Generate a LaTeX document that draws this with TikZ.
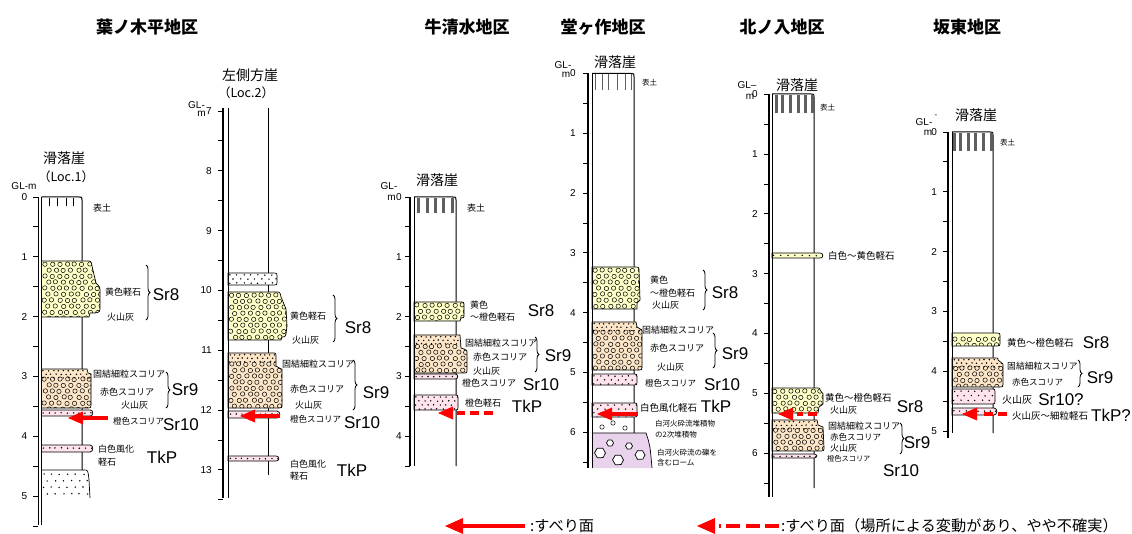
\documentclass[tikz,border=0pt]{standalone}
\usepackage{fontspec}
\setmainfont{Liberation Sans}
\newfontfamily\jp{Noto Sans CJK JP}
\usetikzlibrary{decorations.pathreplacing}
\definecolor{yel}{RGB}{255,255,200}
\definecolor{pch}{RGB}{253,230,200}
\definecolor{pnk}{RGB}{255,228,238}
\definecolor{pur}{RGB}{232,210,236}
\definecolor{htc}{RGB}{95,95,95}
\newcounter{nn}
\newcommand\circs[4]{%
  \pgfmathtruncatemacro\nr{(#4-#2)/6}%
  \pgfmathtruncatemacro\nc{(#3-#1)/7.5}%
  \foreach \r in {0,...,\nr}{\foreach \c in {0,...,\nc}{%
    \draw[circ] ({#1+3.2+\c*7.5+mod(\r,2)*3.75+0.8*rand},{#2+3.2+\r*6+0.4*rand}) circle[radius=2.2];}}}
\newcommand\dotsin[6]{%
  \pgfmathtruncatemacro\nr{(#4-#2)/#6}%
  \pgfmathtruncatemacro\nc{(#3-#1)/#5}%
  \foreach \r in {0,...,\nr}{\foreach \c in {0,...,\nc}{%
    \fill ({#1+2+\c*#5+mod(\r,2)*#5/2+0.6*rand},{#2+#6/2+\r*#6+0.3*rand}) circle[radius=0.8];}}}
\newcommand\layer[3]{\fill[#1] #2; \begin{scope}\clip #2; #3\end{scope} \draw[lay] #2;}
\newcommand\bandp[4]{(#1,#2) -- ({#3-3},#2) .. controls ({#3+0.8},#2) and ({#3+0.8},#4) .. ({#3-3},#4) -- (#1,#4) -- cycle}
\newcommand\boxp[4]{(#1,#2) -- ({#3-3},#2) .. controls (#3,#2) .. (#3,{#2+3}) -- (#3,{#4-3}) .. controls (#3,#4) .. ({#3-3},#4) -- (#1,#4) -- cycle}
\newcommand\ticks[5]{%
  \foreach \k in {0,...,#4}{%
    \pgfmathsetmacro\yy{#2+29.9*\k}%
    \draw[line width=0.8pt] ({#1-5},\yy) -- (#1,\yy);
    \ifodd\k\else\pgfmathtruncatemacro\dd{#3+\k/2}\node[ticklbl] at ({#1-#5},\yy) {\dd};\fi}}
\newcommand\hatch[4]{\foreach \x in {#1}{\draw[#4] (\x,#2) -- (\x,#3);}}
\newcommand\slip[5]{%
  \fill[red] (#1,#3) -- ({#1+#4},{#3-#5}) -- ({#1+#4},{#3+#5}) -- cycle;
  \draw[red,line width=4.5pt] ({#1+#4-1},#3) -- (#2,#3);}
\newcommand\slipd[6]{%
  \fill[red] (#1,#3) -- ({#1+#4},{#3-#5}) -- ({#1+#4},{#3+#5}) -- cycle;
  \draw[red,line width=4.5pt,dash pattern=#6] (#2,#3) -- ({#1+#4+4},#3);}
\newcommand\lb[4][9]{\stepcounter{nn}\node[lbl,font={\jp\fontsize{#1}{#1}\selectfont}] (n\arabic{nn}) at (#2,#3) {#4};}
\newcommand\sr[3]{\stepcounter{nn}\node[srl] (n\arabic{nn}) at (#1,#2) {#3};}
\newcommand\gl[4][10]{\stepcounter{nn}\node[inner sep=0pt,font=\fontsize{#1}{#1}\selectfont] (n\arabic{nn}) at (#2,#3) {#4};}
\newcommand\clast[3]{\draw[fill=white,line width=0.7pt] ({#1+#3},#2) \foreach \a in {55,118,182,240,300} { -- ({#1+#3*cos(\a)},{#2+#3*sin(\a)}) } -- cycle;}
\begin{document}
\begin{tikzpicture}[x=1pt,y=-1pt,
 colline/.style={line width=1pt},
 axisline/.style={line width=1.4pt},
 lay/.style={line width=0.7pt},
 circ/.style={line width=0.5pt},
 lbl/.style={inner sep=0pt,anchor=west},
 srl/.style={inner sep=0pt,font=\fontsize{17}{17}\selectfont},
 ticklbl/.style={inner sep=0pt,anchor=east,font=\fontsize{10}{10}\selectfont},
 ttl/.style={inner sep=0pt,font=\jp\bfseries\fontsize{17}{17}\selectfont},
 hd/.style={inner sep=0pt,font=\jp\fontsize{14}{14}\selectfont},
 hds/.style={inner sep=0pt,font=\jp\fontsize{12.5}{12.5}\selectfont},
 brc/.style={decorate,decoration={brace,amplitude=4pt},line width=0.8pt},
 thinhatch/.style={line width=0.7pt,black},
 thickhatch/.style={line width=3pt,color=htc},
]
\pgfmathsetseed{4242}
\useasboundingbox (0,0) rectangle (1132,534);
\fill[white] (0,0) rectangle (1132,534);

% ---------------- titles
\node[ttl] (T1) at (147,27) {葉ノ木平地区};
\node[ttl] (T2) at (467,27) {牛清水地区};
\node[ttl] (T3) at (603,27) {堂ヶ作地区};
\node[ttl] (T4) at (782,27) {北ノ入地区};
\node[ttl] (T5) at (967,27) {坂東地区};

% ================= Column 1 =================
\node[hd] (H1) at (64,158) {滑落崖};
\node[hds] (H1b) at (66,177) {（Loc.1）};
\gl{24}{186}{GL-m}
\draw[colline] (41.5,197) -- (79,197) .. controls (82,197) .. (82,200) -- (82,470);
\hatch{49,57,66,73}{198}{206}{thinhatch}
\layer{yel}{(41.5,261) -- (87,261) .. controls (91,261) .. (92,266) -- (96,283) .. controls (100,287) .. (100,292) -- (100,306) .. controls (100,312) .. (95,313) -- (90,313) -- (89,317) -- (41.5,317) -- cycle}{\circs{41.5}{261}{100}{317}}
\layer{pch}{(41.5,369) -- (87,369) -- (88,373) -- (91,374) -- (91,405) .. controls (91,408) .. (88,408) -- (41.5,408) -- cycle}{\dotsin{41.5}{369}{91}{377}{5}{3.5}\circs{41.5}{376}{91}{408}}
\layer{pnk}{\bandp{41.5}{410}{93}{416}}{\dotsin{41.5}{410.5}{93}{416}{6}{5}}
\layer{pnk}{\bandp{41.5}{445}{93}{452}}{\dotsin{41.5}{445.5}{93}{452}{6}{5}}
\begin{scope}
\clip (41.5,470) -- (84,470) .. controls (88,470) .. (89,480) -- (90,498) -- (41.5,498) -- cycle;
\dotsin{41.5}{471}{90}{498}{8}{6.5}
\end{scope}
\draw[lay] (41.5,470) -- (84,470) .. controls (88,470) .. (89,480) -- (90,498);
\draw[colline] (41.5,197) -- (41.5,525);
\draw[axisline] (38.3,197) -- (38.3,525);
\ticks{38.3}{197}{0}{11}{11}
\lb{93}{208}{表土}
\lb{105}{292}{黄色軽石}
\lb{107}{317}{火山灰}
\draw[brc] (146,265) -- (146,320);
\sr{166}{295}{Sr8}
\lb{93}{374}{固結細粒スコリア}
\lb{100}{392}{赤色スコリア}
\lb{121}{405}{火山灰}
\draw[brc] (166,372) -- (166,408);
\sr{185}{390}{Sr9}
\lb[8.5]{113}{421}{橙色スコリア}
\sr{181}{425}{Sr10}
\lb{98}{449}{白色風化}
\lb{98}{462}{軽石}
\sr{162}{457}{TkP}
\slip{68}{108}{418}{15}{6.5}

% ================= Column 2 =================
\node[hd] (H2) at (250,75) {左側方崖};
\node[hds] (H2b) at (246,93) {（Loc.2）};
\gl{196.5}{105}{GL-}
\gl{201.5}{114}{m}
\draw[colline] (268,108) -- (268,475);
\layer{white}{\boxp{228}{273}{277}{285}}{\dotsin{228}{273}{277}{285}{7}{4}}
\layer{yel}{(228,292) -- (276,292) .. controls (280,292) .. (281,297) -- (286,309) -- (287,326) -- (286,334) .. controls (285,337) .. (282,337) -- (281,340) -- (228,340) -- cycle}{\circs{228}{292}{287}{340}}
\layer{pch}{(228,353) -- (274,353) .. controls (276,353) .. (276,356) -- (276,366) -- (281,369) -- (282,369) -- (282,404) .. controls (282,408) .. (279,408) -- (228,408) -- cycle}{\dotsin{228}{353}{282}{362}{5}{3.5}\circs{228}{361}{282}{408}}
\layer{pnk}{\bandp{228}{411}{280}{418}}{\dotsin{228}{411.5}{280}{418}{6}{5}}
\layer{pnk}{\bandp{228}{456}{279}{461}}{\dotsin{228}{456}{279}{461}{6}{5}}
\draw[colline] (228,108) -- (228,498);
\draw[axisline] (223,108) -- (223,498);
\ticks{223}{111}{7}{13}{11}
\lb{290}{316}{黄色軽石}
\lb{292}{340}{火山灰}
\draw[brc] (333,295) -- (333,342);
\sr{358}{328}{Sr8}
\lb{282}{364}{固結細粒スコリア}
\lb{290}{389}{赤色スコリア}
\lb{295}{405}{火山灰}
\draw[brc] (353,360) -- (353,410);
\sr{376}{393}{Sr9}
\lb[8.5]{290}{419}{橙色スコリア}
\sr{362}{423}{Sr10}
\lb{290}{464}{白色風化}
\lb{290}{476}{軽石}
\sr{352}{470}{TkP}
\slip{240}{280}{416}{15}{6.5}

% ================= Column 3 =================
\node[hd] (H3) at (437,180) {滑落崖};
\gl{389}{186}{GL-}
\gl{391.5}{198}{m}
\draw[colline] (414,197) -- (453,197) .. controls (456,197) .. (456,200) -- (456,466);
\hatch{418,427,435,443,452}{198}{213}{thickhatch}
\layer{yel}{(414,302) -- (460,302) .. controls (464,302) .. (464,306) -- (464,314) .. controls (464,318) .. (461,318) -- (460,321) -- (414,321) -- cycle}{\circs{414}{302}{464}{321}}
\layer{pch}{(414,335) -- (460,335) -- (461,348) -- (464,349) .. controls (467,350) .. (467,354) -- (467,369) .. controls (467,373) .. (463,373) -- (414,373) -- cycle}{\dotsin{414}{335}{467}{344}{5}{3.5}\circs{414}{343}{467}{373}}
\layer{pnk}{\bandp{414}{374}{458}{379}}{\dotsin{414}{374}{458}{379}{6}{5}}
\layer{pnk}{\boxp{414}{395}{458}{410}}{\dotsin{414}{395}{458}{410}{6}{4}}
\draw[colline] (414,197) -- (414,466);
\draw[axisline] (410,197) -- (410,466);
\ticks{410}{197}{0}{9}{8}
\lb{467}{208}{表土}
\lb{470}{305}{黄色}
\lb{470}{317}{～橙色軽石}
\sr{541}{311}{Sr8}
\lb{465}{343}{固結細粒スコリア}
\lb{473}{357}{赤色スコリア}
\lb{473}{371}{火山灰}
\draw[brc] (535,337) -- (535,372);
\sr{558}{356}{Sr9}
\lb{462}{383}{橙色スコリア}
\sr{541}{385}{Sr10}
\lb{465}{403}{橙色軽石}
\sr{527}{406}{TkP}
\slipd{438}{493}{413}{15}{6.5}{on 9pt off 5pt}

% ================= Column 4 =================
\node[hd] (H4) at (615,62) {滑落崖};
\gl{563}{65}{GL-}
\gl{566}{75}{m}
\draw[colline] (592,73.5) -- (631,73.5) .. controls (634,73.5) .. (634,77) -- (634,433);
\hatch{595.5,602,608,617,625,631.5}{74}{90}{thinhatch,htc}
\layer{yel}{(592,267) -- (636,267) .. controls (639,267) .. (639,270) -- (640,300) -- (637,303) -- (637,309) -- (592,309) -- cycle}{\circs{592}{267}{640}{309}}
\layer{pch}{(592,322) -- (636,322) -- (637,327) -- (642,330) -- (642,367) .. controls (642,370) .. (639,370) -- (592,370) -- cycle}{\dotsin{592}{322}{642}{330}{5}{3.5}\circs{592}{329}{642}{370}}
\layer{pnk}{\boxp{592}{374}{637}{385}}{\dotsin{592}{374}{637}{385}{7}{4}}
\layer{pnk}{\boxp{592}{403}{637}{417}}{\dotsin{592}{403}{637}{417}{7}{4}}
\draw[circ] (602,427) circle[radius=2.2] (613,423) circle[radius=2.2] (625,428) circle[radius=2.2];
\fill[pur] (592,433) -- (646,433) .. controls (650,445) .. (652,468) -- (592,468) -- cycle;
\draw[lay] (592,433) -- (646,433) .. controls (650,445) .. (652,468);
\clast{610}{443}{3.5}
\clast{629}{446}{3.5}
\clast{600}{453}{5.5}
\clast{618}{460}{5.5}
\clast{640}{455}{5}
\draw[colline] (592,73.5) -- (592,468);
\draw[axisline] (588,73.5) -- (588,468);
\ticks{588}{73.5}{0}{13}{12}
\lb[7.5]{642}{83}{表土}
\lb{650}{280}{黄色}
\lb{650}{293}{～橙色軽石}
\lb{652}{305}{火山灰}
\draw[brc] (703,270) -- (703,310);
\sr{725}{293}{Sr8}
\lb{642}{330}{固結細粒スコリア}
\lb{650}{348}{赤色スコリア}
\lb{657}{367}{火山灰}
\draw[brc] (713,333) -- (713,368);
\sr{735}{354}{Sr9}
\lb[8.5]{645}{383}{橙色スコリア}
\sr{722}{385}{Sr10}
\lb[9.5]{640}{408}{白色風化軽石}
\sr{716}{406}{TkP}
\lb[7.5]{655}{424}{白河火砕流堆積物}
\lb[7.5]{655}{435}{の2次堆積物}
\lb[7.5]{657}{453}{白河火砕流の礫を}
\lb[7.5]{657}{463}{含むローム}
\slip{597}{638}{414}{15}{6.5}

% ================= Column 5 =================
\node[hd] (H5) at (797,85) {滑落崖};
\gl{747}{85}{GL--}
\gl{750}{97}{m}
\draw[colline] (772,94) -- (811,94) .. controls (814,94) .. (814,97) -- (814,488);
\hatch{776,782,790,798,805,812}{95}{113}{thickhatch}
\layer{yel}{\bandp{772}{253}{823}{258}}{\dotsin{772}{253}{823}{258}{7}{5}}
\layer{yel}{(772,388) -- (818,388) .. controls (820,388) .. (820,390) -- (823,394) -- (823,404) -- (819,407) -- (818,413) -- (772,413) -- cycle}{\circs{772}{388}{823}{413}}
\layer{pch}{(772,420) -- (817,420) -- (818,425) -- (823,427) -- (824,448) .. controls (824,451) .. (821,451) -- (772,451) -- cycle}{\dotsin{772}{420}{824}{428}{5}{3.5}\circs{772}{427}{824}{451}}
\layer{pnk}{\bandp{772}{454}{817}{458}}{\dotsin{772}{454}{817}{458}{6}{5}}
\draw[colline] (772,94) -- (772,497);
\draw[axisline] (769,94) -- (769,497);
\ticks{769}{94.3}{0}{13}{11}
\lb[7.5]{820}{108}{表土}
\lb[9.5]{828}{256}{白色～黄色軽石}
\lb[9.5]{825}{398}{黄色～橙色軽石}
\lb{830}{410}{火山灰}
\sr{910}{407}{Sr8}
\lb{828}{426}{固結細粒スコリア}
\lb[8.5]{830}{437}{赤色スコリア}
\lb{830}{448}{火山灰}
\draw[brc] (900,423) -- (900,454);
\sr{917}{443}{Sr9}
\lb[7.2]{827}{459}{橙色スコリア}
\sr{901}{471}{Sr10}
\slipd{778}{817}{414}{15}{6.5}{on 9pt off 5pt}

% ================= Column 6 =================
\node[hd] (H6) at (976,115) {滑落崖};
\gl{924}{122}{GL-}
\gl[8]{936}{116}{-}
\gl{928}{133}{m}
\draw[colline] (952,132) -- (990,132) .. controls (993,132) .. (993,135) -- (993,433);
\hatch{954,960,968,975,983,991}{133}{151}{thickhatch}
\layer{yel}{\boxp{952}{333}{1000}{346}}{\circs{952}{336}{1000}{346}}
\layer{pch}{(952,358) -- (996,358) .. controls (998,358) .. (998,360) -- (1003,364) -- (1003,384) .. controls (1003,387) .. (1000,387) -- (952,387) -- cycle}{\dotsin{952}{358}{1003}{366}{5}{3.5}\circs{952}{365}{1003}{387}}
\layer{pnk}{\boxp{952}{389}{995}{404}}{\dotsin{952}{389}{995}{404}{7}{4.5}}
\layer{pnk}{\bandp{952}{408}{997}{415}}{\dotsin{952}{408.5}{997}{415}{6}{5}}
\draw[colline] (952,132) -- (952,433);
\draw[axisline] (948,132) -- (948,438);
\ticks{948}{132}{0}{10}{11}
\lb[7.5]{1000}{143}{表土}
\lb[9.5]{1007}{343}{黄色～橙色軽石}
\sr{1096}{343}{Sr8}
\lb[8.8]{1007}{366}{固結細粒スコリア}
\lb[8.5]{1012}{382}{赤色スコリア}
\draw[brc] (1078,360) -- (1078,387);
\sr{1100}{378}{Sr9}
\lb[10]{1002}{400}{火山灰}
\sr{1061}{400}{Sr10?}
\lb[9.5]{1012}{416}{火山灰～細粒軽石}
\sr{1111}{415}{TkP?}
\slipd{962}{1007}{414}{15}{6.5}{on 9pt off 5pt}

% ================= Legend =================
\slip{445}{525}{526}{18}{8}
\lb[15.2]{530}{526}{:すべり面}
\slipd{697}{779}{526}{18}{8}{on 14pt off 5.5pt}
\lb[15.2]{781}{526}{:すべり面（場所による変動があり、やや不確実）}
\end{tikzpicture}
\end{document}
